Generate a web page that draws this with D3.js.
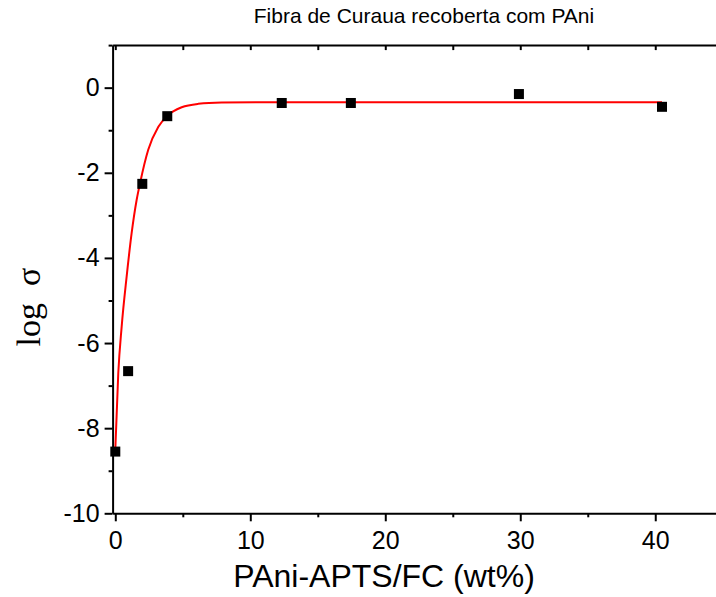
<!DOCTYPE html>
<html>
<head>
<meta charset="utf-8">
<script src="https://cdn.jsdelivr.net/npm/d3@7"></script>
<style>
  body { margin: 0; background: #fff; }
  svg { display: block; }
</style>
</head>
<body>
<svg></svg>
<script>
// data
const pointsX = [0, 0.95, 2.0, 3.85, 12.33, 17.45, 29.9, 40.5];
const pointsY = [-8.55, -6.66, -2.26, -0.67, -0.36, -0.36, -0.15, -0.45];

// fitted curve, sampled from the red line
const fitX = [0, 0.22, 0.47, 0.84, 1.21, 1.58, 1.83, 2.44, 3.19, 3.93, 4.92, 6.15, 7.88, 12, 20, 30, 40.5];
const fitY = [-8.5, -6.71, -5.62, -4.44, -3.42, -2.64, -2.25, -1.46, -0.92, -0.64, -0.46, -0.38, -0.35, -0.34, -0.34, -0.34, -0.34];

const xMajor = [0, 10, 20, 30, 40];
const xMinor = [5, 15, 25, 35];
const yMajor = [0, -2, -4, -6, -8, -10];
const yMinor = [1, -1, -3, -5, -7, -9];

const title = "Fibra de Curaua recoberta com PAni";
const xTitle = "PAni-APTS/FC (wt%)";

const svg = d3.select("svg").attr("width", 716).attr("height", 597);

const x = d3.scaleLinear().domain([-0.2, 44.5]).range([112.6, 716]);
const y = d3.scaleLinear().domain([-10, 1]).range([513.3, 45.1]);

const font = "Arial, 'Liberation Sans', sans-serif";
const fmt = d => String(d); // plain hyphen, like the original

// bottom axis
const gx = svg.append("g")
  .attr("transform", `translate(0,${y(-10)})`)
  .call(d3.axisBottom(x).tickValues(xMajor).tickFormat(fmt).tickSize(8).tickPadding(10).tickSizeOuter(0));
gx.append("g")
  .call(d3.axisBottom(x).tickValues(xMinor).tickSize(4).tickFormat("").tickSizeOuter(0))
  .select(".domain").remove();

// top axis (ticks inward)
svg.append("g")
  .attr("transform", `translate(0,${y(1)})`)
  .call(d3.axisBottom(x).tickValues(xMajor.concat(xMinor)).tickSize(5).tickFormat("").tickSizeOuter(0));

// left axis
const gy = svg.append("g")
  .attr("transform", `translate(${x(-0.2)},0)`)
  .call(d3.axisLeft(y).tickValues(yMajor).tickFormat(fmt).tickSize(8).tickPadding(5).tickSizeOuter(0));
gy.append("g")
  .call(d3.axisLeft(y).tickValues(yMinor).tickSize(4).tickFormat("").tickSizeOuter(0))
  .select(".domain").remove();

svg.selectAll(".domain").attr("stroke", "#000").attr("stroke-width", 2);
svg.selectAll(".tick line").attr("stroke", "#000").attr("stroke-width", 2);
svg.selectAll(".tick text")
  .attr("font-family", font)
  .attr("font-size", 25)
  .attr("fill", "#000");

// fit curve
const fit = fitX.map((d, i) => [d, fitY[i]]);
svg.append("path")
  .datum(fit)
  .attr("fill", "none")
  .attr("stroke", "#ff0000")
  .attr("stroke-width", 2)
  .attr("d", d3.line().x(d => x(d[0])).y(d => y(d[1])).curve(d3.curveMonotoneX));

// points
const s = 10;
svg.selectAll("rect.pt")
  .data(pointsX.map((d, i) => [d, pointsY[i]]))
  .join("rect")
  .attr("class", "pt")
  .attr("x", d => x(d[0]) - s / 2)
  .attr("y", d => y(d[1]) - s / 2)
  .attr("width", s)
  .attr("height", s)
  .attr("fill", "#000");

// titles
svg.append("text")
  .attr("x", 424)
  .attr("y", 23)
  .attr("text-anchor", "middle")
  .attr("font-family", font)
  .attr("font-size", 21)
  .text(title);

svg.append("text")
  .attr("x", 384)
  .attr("y", 587)
  .attr("text-anchor", "middle")
  .attr("font-family", font)
  .attr("font-size", 32)
  .text(xTitle);

svg.append("text")
  .attr("transform", "translate(40,307) rotate(-90)")
  .attr("text-anchor", "middle")
  .attr("font-family", "'Liberation Serif', 'Times New Roman', serif")
  .attr("font-size", 34)
  .attr("xml:space", "preserve")
  .text("log  σ");
</script>
</body>
</html>
